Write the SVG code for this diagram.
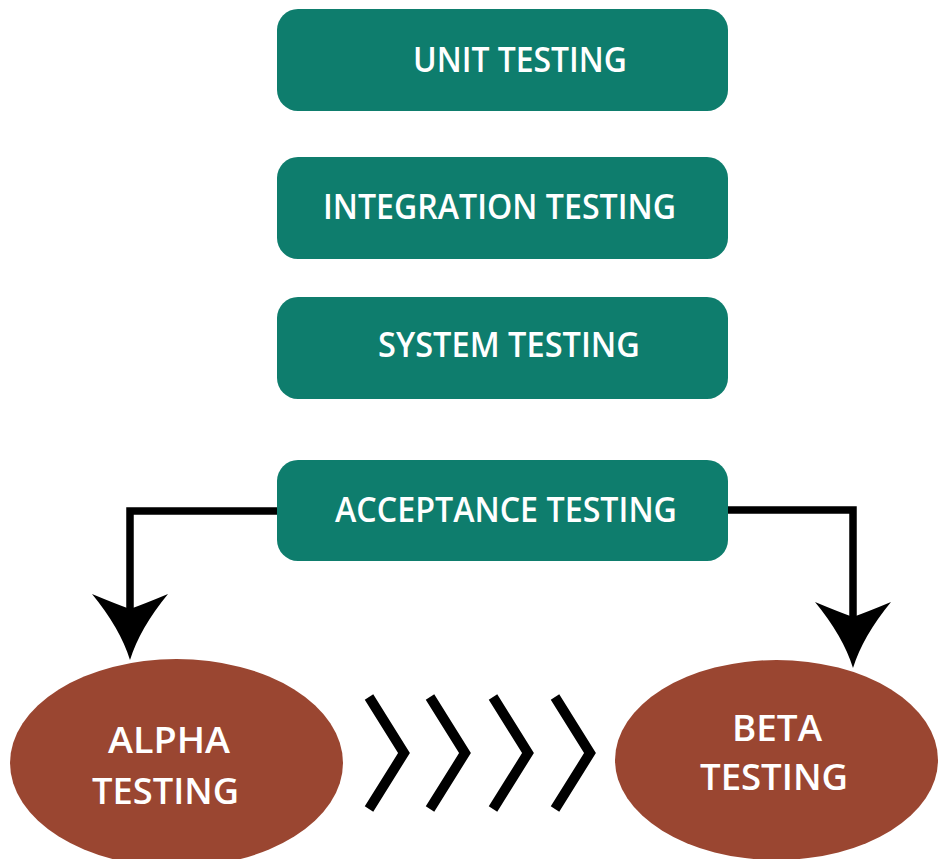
<svg xmlns="http://www.w3.org/2000/svg" width="939" height="859" viewBox="0 0 939 859">
  <defs>
    <style>
      .box { fill: #0e7d6d; }
      .oval { fill: #9a4631; }
      .label { fill: #ffffff; font-family: "Open Sans", "Liberation Sans", sans-serif; font-weight: 600; }
      .box-label { font-size: 34px; }
      .oval-label { font-size: 36px; }
      .link { fill: none; stroke: #000000; stroke-width: 7.5; stroke-linejoin: miter; }
      .chevron { fill: none; stroke: #000000; stroke-width: 10; stroke-linejoin: miter; stroke-miterlimit: 10; }
    </style>
    <!-- concave-sided arrowhead; path ends at the notch, the tip lies 51px beyond -->
    <marker id="head" markerUnits="userSpaceOnUse" viewBox="-70 -40 75 80" refX="-51" refY="0" markerWidth="75" markerHeight="80" orient="auto">
      <path d="M0,0 Q-32,-10 -66,-38 Q-56,-14 -51,0 Q-56,14 -66,38 Q-32,10 0,0 Z" fill="#000000"/>
    </marker>
  </defs>

  <rect width="939" height="859" fill="#ffffff"/>

  <g id="connectors">
    <path class="link" d="M278,511 H130 V609" marker-end="url(#head)"/>
    <path class="link" d="M727,510 H853 V617" marker-end="url(#head)"/>
  </g>

  <g id="unit-testing">
    <rect class="box" x="277" y="9" width="451" height="102" rx="21"/>
    <text class="label box-label" x="413" y="72" textLength="214" lengthAdjust="spacingAndGlyphs">UNIT TESTING</text>
  </g>

  <g id="integration-testing">
    <rect class="box" x="277" y="157" width="451" height="102" rx="21"/>
    <text class="label box-label" x="323" y="219" textLength="353" lengthAdjust="spacingAndGlyphs">INTEGRATION TESTING</text>
  </g>

  <g id="system-testing">
    <rect class="box" x="277" y="297" width="451" height="102" rx="21"/>
    <text class="label box-label" x="378" y="357" textLength="262" lengthAdjust="spacingAndGlyphs">SYSTEM TESTING</text>
  </g>

  <g id="acceptance-testing">
    <rect class="box" x="277" y="460" width="451" height="101" rx="21"/>
    <text class="label box-label" x="335" y="522" textLength="342" lengthAdjust="spacingAndGlyphs">ACCEPTANCE TESTING</text>
  </g>

  <g id="alpha-testing">
    <ellipse class="oval" cx="176.5" cy="763" rx="166.5" ry="104"/>
    <text class="label oval-label" x="108" y="753" textLength="122" lengthAdjust="spacingAndGlyphs">ALPHA</text>
    <text class="label oval-label" x="92" y="804" textLength="147" lengthAdjust="spacingAndGlyphs">TESTING</text>
  </g>

  <g id="flow-chevrons">
    <polyline class="chevron" points="369,697 404,753 369,809"/>
    <polyline class="chevron" points="430,697 465,753 430,809"/>
    <polyline class="chevron" points="493,697 528,753 493,809"/>
    <polyline class="chevron" points="555,697 590,753 555,809"/>
  </g>

  <g id="beta-testing">
    <ellipse class="oval" cx="776.5" cy="760" rx="161.5" ry="100"/>
    <text class="label oval-label" x="732" y="741" textLength="90" lengthAdjust="spacingAndGlyphs">BETA</text>
    <text class="label oval-label" x="700" y="790" textLength="148" lengthAdjust="spacingAndGlyphs">TESTING</text>
  </g>
</svg>
